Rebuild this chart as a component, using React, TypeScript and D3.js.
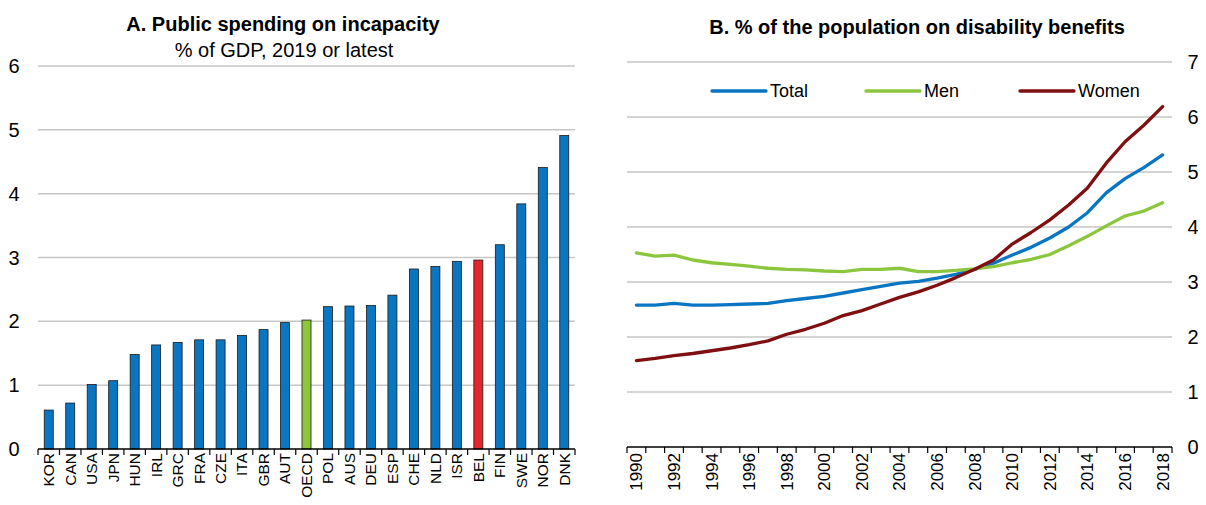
import { useEffect, useRef } from "react";
import * as d3 from "d3";

// Panel A: public spending on incapacity, % of GDP
const countries = ["KOR", "CAN", "USA", "JPN", "HUN", "IRL", "GRC", "FRA", "CZE", "ITA", "GBR", "AUT", "OECD",
  "POL", "AUS", "DEU", "ESP", "CHE", "NLD", "ISR", "BEL", "FIN", "SWE", "NOR", "DNK"];
const spending = [0.61, 0.72, 1.01, 1.07, 1.48, 1.63, 1.67, 1.71, 1.71, 1.78, 1.87, 1.98, 2.02,
  2.23, 2.24, 2.25, 2.41, 2.82, 2.86, 2.94, 2.96, 3.2, 3.84, 4.41, 4.91];
const spendTicks = [0, 1, 2, 3, 4, 5, 6];

// Panel B: % of the population on disability benefits
const years = d3.range(1990, 2019);
const total = [2.58, 2.58, 2.61, 2.58, 2.58, 2.59, 2.6, 2.61, 2.66, 2.7, 2.74, 2.8, 2.86, 2.92, 2.98, 3.01, 3.07,
  3.14, 3.23, 3.34, 3.49, 3.63, 3.8, 4.0, 4.26, 4.62, 4.88, 5.08, 5.31];
const men = [3.53, 3.47, 3.49, 3.4, 3.35, 3.32, 3.29, 3.25, 3.23, 3.22, 3.2, 3.19, 3.23, 3.23, 3.25, 3.19, 3.19,
  3.21, 3.24, 3.28, 3.35, 3.41, 3.5, 3.66, 3.83, 4.02, 4.2, 4.29, 4.44];
const women = [1.57, 1.61, 1.66, 1.7, 1.75, 1.8, 1.86, 1.93, 2.05, 2.14, 2.25, 2.39, 2.48, 2.6, 2.72, 2.82, 2.94,
  3.08, 3.23, 3.4, 3.69, 3.9, 4.13, 4.4, 4.71, 5.16, 5.55, 5.85, 6.19];
const shareTicks = [0, 1, 2, 3, 4, 5, 6, 7];

const BLUE = "#0a76c2";
const GREEN = "#8cc63f";
const RED = "#e3262b";
const DARKRED = "#7f0f10";
const GRID = "#c6c6c6";
const FONT = "'Liberation Sans', Arial, sans-serif";

export default function App() {
  const ref = useRef<SVGSVGElement>(null);

  useEffect(() => {
    const svg = d3.select(ref.current);
    svg.selectAll("*").remove();
    svg.style("font-family", FONT);

    // ---------- Panel A ----------
    const xA = d3.scaleBand().domain(countries).range([38, 575]);
    const yA = d3.scaleLinear().domain([0, 6]).range([449, 66]);
    const gA = svg.append("g");

    gA.append("g").selectAll("line").data(spendTicks.filter(d => d > 0)).join("line")
      .attr("x1", 38).attr("x2", 575)
      .attr("y1", d => yA(d)).attr("y2", d => yA(d))
      .attr("stroke", GRID).attr("stroke-width", 1.5);

    gA.append("g").selectAll("text").data(spendTicks).join("text")
      .attr("x", 14).attr("y", d => yA(d)).attr("dy", "0.35em")
      .attr("text-anchor", "middle").attr("font-size", 20)
      .text(d => d);

    const bw = 9;
    gA.append("g").selectAll("rect").data(countries).join("rect")
      .attr("x", d => xA(d)! + xA.bandwidth() / 2 - bw / 2)
      .attr("width", bw)
      .attr("y", (d, i) => yA(spending[i]))
      .attr("height", (d, i) => yA(0) - yA(spending[i]))
      .attr("fill", d => d === "OECD" ? GREEN : d === "BEL" ? RED : BLUE)
      .attr("stroke", "#1a1a1a").attr("stroke-width", 0.8);

    gA.append("line").attr("x1", 38).attr("x2", 575)
      .attr("y1", yA(0)).attr("y2", yA(0)).attr("stroke", "#000").attr("stroke-width", 1.5);
    gA.append("g").selectAll("line").data(d3.range(countries.length + 1)).join("line")
      .attr("x1", i => 38 + i * xA.step()).attr("x2", i => 38 + i * xA.step())
      .attr("y1", yA(0)).attr("y2", yA(0) + 6).attr("stroke", "#000").attr("stroke-width", 1.2);

    gA.append("g").selectAll("text").data(countries).join("text")
      .attr("transform", d => `translate(${xA(d)! + xA.bandwidth() / 2},${yA(0) + 4}) rotate(-90)`)
      .attr("dy", "0.35em").attr("text-anchor", "end").attr("font-size", 15.5)
      .text(d => d);

    gA.append("text").attr("x", 283).attr("y", 31).attr("text-anchor", "middle")
      .attr("font-size", 20).attr("font-weight", "bold").text("A. Public spending on incapacity");
    gA.append("text").attr("x", 284).attr("y", 57).attr("text-anchor", "middle")
      .attr("font-size", 20).text("% of GDP, 2019 or latest");

    // ---------- Panel B ----------
    const xB = d3.scaleBand<number>().domain(years).range([627, 1172]);
    const yB = d3.scaleLinear().domain([0, 7]).range([447, 62]);
    const gB = svg.append("g");

    gB.append("g").selectAll("line").data(shareTicks.filter(d => d > 0)).join("line")
      .attr("x1", 627).attr("x2", 1172)
      .attr("y1", d => yB(d)).attr("y2", d => yB(d))
      .attr("stroke", GRID).attr("stroke-width", 1.5);

    gB.append("g").selectAll("text").data(shareTicks).join("text")
      .attr("x", 1193).attr("y", d => yB(d)).attr("dy", "0.35em")
      .attr("text-anchor", "middle").attr("font-size", 20)
      .text(d => d);

    gB.append("line").attr("x1", 627).attr("x2", 1172)
      .attr("y1", yB(0)).attr("y2", yB(0)).attr("stroke", "#000").attr("stroke-width", 1.5);
    gB.append("g").selectAll("line").data(d3.range(years.length + 1)).join("line")
      .attr("x1", i => 627 + i * xB.step()).attr("x2", i => 627 + i * xB.step())
      .attr("y1", yB(0)).attr("y2", yB(0) + 6).attr("stroke", "#000").attr("stroke-width", 1.2);

    gB.append("g").selectAll("text").data(years.filter(y => y % 2 === 0)).join("text")
      .attr("transform", d => `translate(${xB(d)! + xB.bandwidth() / 2},${yB(0) + 6}) rotate(-90)`)
      .attr("dy", "0.35em").attr("text-anchor", "end").attr("font-size", 17)
      .text(d => d);

    const series = [
      { name: "Total", values: total, color: BLUE },
      { name: "Men", values: men, color: GREEN },
      { name: "Women", values: women, color: DARKRED },
    ];
    const line = d3.line<number>()
      .x((d, i) => xB(years[i])! + xB.bandwidth() / 2)
      .y(d => yB(d));
    series.forEach(s => {
      gB.append("path").attr("d", line(s.values)!)
        .attr("fill", "none").attr("stroke", s.color).attr("stroke-width", 3.3)
        .attr("stroke-linejoin", "round").attr("stroke-linecap", "round");
    });

    const legendX = [712, 866, 1020];
    const lg = gB.append("g").selectAll("g").data(series).join("g")
      .attr("transform", (d, i) => `translate(${legendX[i]},91)`);
    lg.append("line").attr("x1", 0).attr("x2", 54)
      .attr("stroke", d => d.color).attr("stroke-width", 3.3).attr("stroke-linecap", "round");
    lg.append("text").attr("x", 58).attr("dy", "0.35em").attr("font-size", 18).text(d => d.name);

    gB.append("text").attr("x", 917).attr("y", 34).attr("text-anchor", "middle")
      .attr("font-size", 20).attr("font-weight", "bold").text("B. % of the population on disability benefits");
  }, []);

  return <svg ref={ref} width={1206} height={505} style={{ display: "block", margin: "-8px" }} />;
}
